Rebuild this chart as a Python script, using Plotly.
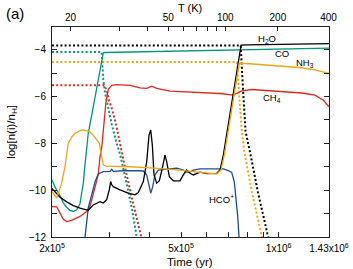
import numpy as np
import plotly.graph_objects as go

# ---------------- data (time in units of 1e5 yr, log abundance) ----------------
h2o_gas_t = [2.0, 2.043, 2.117, 2.22, 2.326, 2.44, 2.528, 2.588, 2.681, 2.812, 2.879, 2.949,
             3.004, 3.034, 3.056, 3.091, 3.241, 3.438, 3.606, 3.692, 3.825, 3.919, 3.983, 4.032,
             4.078, 4.127, 4.207, 4.285, 4.378, 4.462, 4.516, 4.601, 4.733, 4.964, 5.082, 5.206,
             5.33, 5.457, 5.722, 6.0, 6.442, 6.595, 6.752, 6.917, 7.08, 7.248, 7.425, 7.602,
             7.66, 8.0, 10.0, 14.3]
h2o_gas_v = [-9.93, -10.08, -10.30, -10.50, -10.66, -10.77, -10.84, -10.86, -10.63, -10.49, -10.55, -10.41,
             -9.99, -9.63, -9.77, -9.85, -9.99, -10.13, -10.20, -10.10, -9.63, -8.78, -7.65, -7.43,
             -8.07, -9.35, -9.70, -9.60, -9.06, -8.50, -8.78, -9.42, -9.60, -9.60, -9.35, -9.14,
             -9.28, -9.35, -9.23, -9.29, -9.28, -9.14, -8.50, -7.60, -6.70, -5.80, -4.92, -4.00,
             -3.80, -3.79, -3.77, -3.74]

h2o_ice_t = [2.0, 7.639, 7.767, 7.906, 8.16, 8.64, 9.293, 9.35]
h2o_ice_v = [-3.82, -3.82, -5.73, -7.48, -8.37, -10.11, -12.03, -12.2]

co_gas_t = [2.0, 2.043, 2.117, 2.167, 2.22, 2.273, 2.326, 2.384, 2.44, 2.47, 2.498, 2.528, 2.559,
            2.588, 2.651, 2.747, 2.846, 2.879, 2.913, 3.48, 4.964, 7.51, 14.3]
co_gas_v = [-9.56, -9.86, -10.24, -10.54, -10.73, -10.86, -10.91, -10.84, -10.58, -10.20, -9.69, -8.92, -8.29,
            -7.56, -6.80, -5.65, -4.50, -4.13, -4.12, -4.10, -4.06, -3.99, -3.93]

co_ice_t = [2.0, 2.846, 2.863, 2.879, 2.913, 2.983, 3.056, 3.166, 3.241, 3.358, 3.523, 3.65, 3.68]
co_ice_v = [-4.10, -4.10, -4.67, -5.31, -5.82, -6.50, -7.18, -8.0, -8.45, -9.39, -10.75, -12.0, -12.2]

nh3_gas_t = [2.0, 2.068, 2.142, 2.193, 2.245, 2.3, 2.355, 2.47, 2.559, 2.619, 2.681, 2.747, 2.8,
             2.846, 2.879, 2.934, 3.2, 3.48, 4.012, 4.964, 5.722, 6.442, 6.642, 6.80, 7.08, 7.337,
             7.564, 8.16, 9.748, 11.78, 12.95, 14.3]
nh3_gas_v = [-10.06, -10.34, -9.70, -9.0, -8.0, -7.73, -7.57, -7.43, -7.46, -7.52, -7.65, -7.82, -8.0,
             -8.57, -8.92, -8.97, -8.98, -9.0, -9.05, -9.14, -9.24, -9.31, -9.14, -8.50, -7.01, -5.69,
             -4.58, -4.60, -4.69, -4.77, -4.86, -5.01]

nh3_ice_t = [2.0, 7.442, 7.575, 7.694, 7.82, 8.277, 8.887, 8.95]
nh3_ice_v = [-4.53, -4.53, -6.16, -7.43, -8.29, -10.11, -12.0, -12.2]

ch4_gas_t = [2.0, 2.068, 2.117, 2.167, 2.22, 2.3, 2.44, 2.559, 2.619, 2.681, 2.747, 2.778, 2.812,
             2.846, 2.879, 2.899, 2.934, 2.983, 3.056, 3.166, 3.48, 3.737, 3.919, 4.061, 4.207,
             4.624, 5.59, 6.595, 7.248, 7.694, 8.26, 9.748, 11.78, 12.95, 13.74, 14.3]
ch4_gas_v = [-10.70, -10.71, -10.98, -11.24, -11.34, -11.29, -11.12, -10.91, -10.70, -10.20, -9.60, -9.31, -8.59,
             -8.20, -7.48, -7.01, -6.24, -5.69, -5.52, -5.49, -5.52, -5.63, -5.65, -5.56, -5.65,
             -5.77, -5.83, -5.87, -5.94, -5.76, -5.70, -5.76, -5.85, -5.94, -6.16, -6.44]

ch4_ice_t = [2.0, 2.899, 2.949, 2.999, 3.056, 3.129, 3.202, 3.281, 3.382, 3.555, 3.764, 3.80]
ch4_ice_v = [-5.52, -5.52, -5.73, -6.16, -6.50, -7.01, -7.65, -8.37, -9.22, -10.54, -12.03, -12.2]

hcop_t = [2.515, 2.559, 2.588, 2.651, 2.714, 2.778, 2.879, 3.019, 3.056, 3.091, 3.318, 3.692, 3.825,
          3.919, 3.991, 4.032, 4.089, 4.156, 4.255, 4.516, 4.849, 5.082, 5.206, 5.33, 5.457,
          5.722, 6.752, 6.996, 7.166, 7.30, 7.388, 7.478, 7.548, 7.6]
hcop_v = [-12.3, -11.40, -10.75, -10.20, -9.65, -9.31, -9.21, -9.20, -9.11, -9.20, -9.17, -9.17, -9.18,
          -9.35, -9.77, -10.13, -9.85, -9.35, -9.14, -9.09, -9.06, -9.14, -9.23, -9.23, -9.14,
          -9.09, -9.09, -9.16, -9.24, -9.65, -10.29, -11.12, -12.0, -12.3]

# axis ticks
y_major = [-12, -10, -8, -6, -4]
y_labels = ["\u221212", "\u221210", "\u22128", "\u22126", "\u22124"]
y_minor = [-11, -9, -7, -5]
time_major = [2e5, 5e5, 1e6, 1.43e6]
time_labels = ["2x10<sup>5</sup>", "5x10<sup>5</sup>", "1x10<sup>6</sup>", "1.43x10<sup>6</sup>"]
time_minor = [3e5, 4e5, 6e5, 7e5, 8e5, 9e5]
temp_major = [20, 50, 100, 200, 400]
temp_labels = ["20", "50", "100", "200", "400"]
temp_minor = [30, 40, 60, 70, 80, 90]

# heating law: T = 10 + 1.92 (t/1e5 yr)^2
def time_of_temp(T):
    return 1e5 * np.sqrt((T - 10.0) / 1.92)

# ---------------- figure ----------------
BLACK = "#000000"
GREEN = "#00977A"
ORANGE = "#F2A310"
RED = "#E0281E"
BLUE = "#1E4C98"
FONT = "Liberation Sans, Arial, Helvetica, sans-serif"

fig = go.Figure()

def add(t, v, color, dotted=False, width=1.3, xaxis="x"):
    fig.add_trace(go.Scatter(
        x=[ti * 1e5 for ti in t], y=v, mode="lines", xaxis=xaxis,
        line=dict(color=color, width=2.0 if dotted else width,
                  dash="2px,2.2px" if dotted else "solid",
                  shape="linear"),
        showlegend=False, hoverinfo="skip"))

add(co_ice_t, co_ice_v, GREEN, dotted=True)
add(ch4_ice_t, ch4_ice_v, RED, dotted=True)
add(nh3_ice_t, nh3_ice_v, ORANGE, dotted=True)
add(h2o_ice_t, h2o_ice_v, BLACK, dotted=True)
add(ch4_gas_t, ch4_gas_v, RED)
add(co_gas_t, co_gas_v, GREEN)
add(hcop_t, hcop_v, BLUE)
add(h2o_gas_t, h2o_gas_v, BLACK)
add(nh3_gas_t, nh3_gas_v, ORANGE)
# invisible trace so the temperature axis is drawn
fig.add_trace(go.Scatter(x=[3e5], y=[-20], mode="lines", xaxis="x2",
                         showlegend=False, hoverinfo="skip"))

xr = [np.log10(2e5), np.log10(1.43e6)]
axcol = "#222222"
common = dict(showgrid=False, zeroline=False, showline=True, linecolor=axcol, linewidth=1,
              ticks="inside", tickcolor=axcol, tickwidth=1, automargin=False,
              tickfont=dict(family=FONT, size=10, color="black"))

fig.update_layout(
    template="none",
    width=353, height=269,
    margin=dict(l=52, r=24, t=27, b=32, autoexpand=False),
    paper_bgcolor="white", plot_bgcolor="white",
    font=dict(family=FONT, size=10, color="black"),
    xaxis=dict(type="log", range=xr, tickmode="array", tickvals=time_major,
               ticktext=time_labels, ticklen=5, ticklabelstandoff=2,
               minor=dict(tickmode="array", tickvals=time_minor, ticks="inside", ticklen=5,
                          tickcolor=axcol, showgrid=False),
               **common),
    xaxis2=dict(type="log", range=xr, overlaying="x", side="top", anchor="y",
                tickmode="array", tickvals=[time_of_temp(T) for T in temp_major],
                ticktext=temp_labels, ticklen=4, ticklabelstandoff=1,
                minor=dict(tickmode="array", tickvals=[time_of_temp(T) for T in temp_minor],
                           ticks="inside", ticklen=4, tickcolor=axcol, showgrid=False),
                **common),
    yaxis=dict(range=[-12, -3.03], tickmode="array", tickvals=y_major, ticktext=y_labels,
               ticklen=5, mirror="ticks", ticklabelstandoff=3,
               minor=dict(tickmode="array", tickvals=y_minor, ticks="inside", ticklen=5,
                          tickcolor=axcol, showgrid=False),
               **common),
)

ann = [
    dict(text="(a)", x=-0.134, y=1.065, size=15),
    dict(text="T (K)", x=0.498, y=1.09, size=11),
    dict(text="Time (yr)", x=0.498, y=-0.117, size=11.5),
]
for a in ann:
    fig.add_annotation(text=a["text"], x=a["x"], y=a["y"], xref="paper", yref="paper",
                       showarrow=False, font=dict(family=FONT, size=a["size"], color="black"),
                       xanchor="center", yanchor="middle")

fig.add_annotation(text="log[n(i)/n<sub>H</sub>]", x=-0.145, y=0.5, xref="paper", yref="paper",
                   textangle=-90, showarrow=False,
                   font=dict(family=FONT, size=11.5, color="black"),
                   xanchor="center", yanchor="middle")

species_labels = [
    ("H<sub>2</sub>O", 5.9633, -3.53),
    ("CO", 6.0114, -4.17),
    ("NH<sub>3</sub>", 6.0814, -4.57),
    ("CH<sub>4</sub>", 5.9806, -6.06),
    ("HCO<sup>+</sup>", 5.8245, -10.37),
]
for txt, lx, ly in species_labels:
    fig.add_annotation(text=txt, x=lx, y=ly, xref="x", yref="y", showarrow=False,
                       font=dict(family=FONT, size=9.5, color="black"),
                       xanchor="center", yanchor="middle")

fig.write_html("out.html", config={"displayModeBar": False},
               post_script="document.body.style.margin='0';document.body.style.padding='0';")
